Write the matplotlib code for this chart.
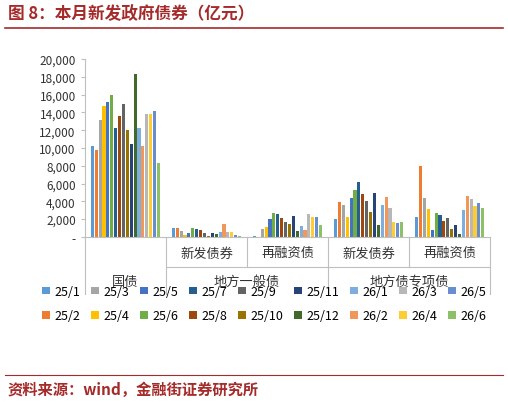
import matplotlib
matplotlib.use("Agg")
import matplotlib.pyplot as plt
from matplotlib.lines import Line2D
from matplotlib.ticker import FuncFormatter
import numpy as np

plt.rcParams['font.family'] = ['Noto Sans CJK SC', 'DejaVu Sans']

months = ["25/1","25/2","25/3","25/4","25/5","25/6","25/7","25/8","25/9",
          "25/10","25/11","25/12","26/1","26/2","26/3","26/4","26/5","26/6"]
sub_labels = ["", "新发债券", "再融资债", "新发债券", "再融资债"]
top_labels = ["国债", "地方一般债", "地方债专项债"]
guozhai = [10200, 9800, 13100, 14700, 15200, 16000, 12300, 13600, 15000, 12000, 10500, 18300, 12200, 10200, 13800, 13800, 14200, 8300]
ybz_new = [1000, 1000, 700, 220, 450, 1000, 850, 800, 460, 110, 400, 330, 580, 1480, 500, 550, 220, 110]
ybz_refi = [70, 40, 940, 1090, 2060, 2660, 2550, 2170, 1650, 1460, 2320, 640, 1200, 790, 2550, 2250, 2280, 1310]
zx_new = [1980, 3900, 3560, 2250, 4340, 5240, 6140, 4830, 4080, 2770, 4900, 1310, 3630, 4530, 3300, 1690, 1540, 1720]
zx_refi = [2280, 7940, 4340, 3150, 750, 2730, 2430, 1800, 2100, 940, 1390, 300, 3030, 4610, 4310, 3450, 3860, 3300]
colors = ["#5B9BD5","#ED7D31","#A5A5A5","#FFC000","#4472C4","#70AD47","#255E91","#9E480E","#636363",
          "#997300","#264478","#43682B","#7CAFDD","#F1975A","#B7B7B7","#FFCD33","#698ED0","#8CC168"]

data = np.array([guozhai, ybz_new, ybz_refi, zx_new, zx_refi])
fig = plt.figure(figsize=(5.08, 4.06), dpi=100)
ax = fig.add_axes([0.167, 0.414, 0.798, 0.438])
n = len(months)
w = 0.048
x = np.arange(5)
for i in range(n):
    ax.bar(x + (i - (n-1)/2) * w, data[:, i], width=w*0.8, color=colors[i], label=months[i])
ax.set_xlim(-0.5, 4.5)
ax.set_ylim(0, 20000)
ax.set_yticks(range(0, 20001, 2000))
ax.yaxis.set_major_formatter(FuncFormatter(lambda v, p: "-" if v == 0 else f"{int(v):,}"))
ax.tick_params(axis='y', labelsize=8.5, colors='#333333', length=3, color='#bfbfbf')
for s in ["top", "right"]:
    ax.spines[s].set_visible(False)
ax.spines["left"].set_color("#bfbfbf")
ax.spines["bottom"].set_color("#bfbfbf")
ax.set_xticks([])
tr = ax.get_xaxis_transform()
for i, lab in enumerate(sub_labels):
    if lab:
        ax.text(i, -0.09, lab, transform=tr, ha='center', va='center', fontsize=9.5, color='#333333')
for b in [-0.5, 0.5, 2.5, 4.5]:
    ax.add_line(Line2D([b, b], [0, -0.32], transform=tr, color='#bfbfbf', lw=0.8, clip_on=False))
for b in [1.5, 3.5]:
    ax.add_line(Line2D([b, b], [0, -0.17], transform=tr, color='#bfbfbf', lw=0.8, clip_on=False))
ax.add_line(Line2D([0.5, 4.5], [-0.17, -0.17], transform=tr, color='#bfbfbf', lw=0.8, clip_on=False))
for pos, lab in zip([0, 1.5, 3.5], top_labels):
    ax.text(pos, -0.25, lab, transform=tr, ha='center', va='center', fontsize=9.5, color='#333333')

fig.legend(loc='center', bbox_to_anchor=(0.52, 0.25), ncol=9, fontsize=9, frameon=False,
           handlelength=0.6, handleheight=0.6, columnspacing=0.9, handletextpad=0.35, labelspacing=0.9)

fig.text(0.015, 0.965, "图 8：本月新发政府债券（亿元）", fontsize=12, fontweight='bold', color='#a52a2a', va='center')
fig.add_artist(Line2D([0.01, 0.99], [0.928, 0.928], color='#a52a2a', lw=1.2))
fig.add_artist(Line2D([0.01, 0.99], [0.075, 0.075], color='#a52a2a', lw=0.8))
fig.text(0.015, 0.04, "资料来源：wind，金融街证券研究所", fontsize=11, fontweight='bold', color='#a52a2a', va='center')
fig.savefig("out.png", dpi=100)
